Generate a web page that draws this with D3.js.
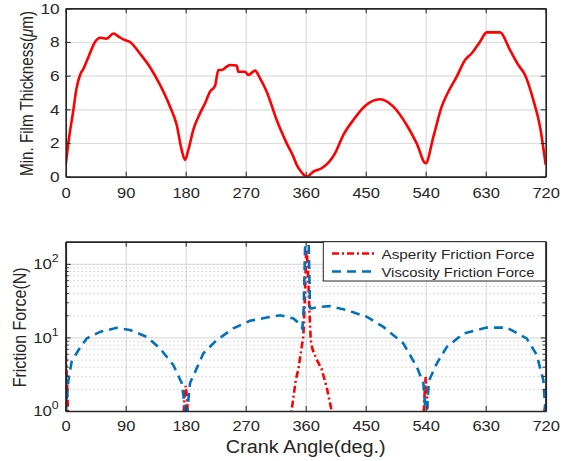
<!DOCTYPE html>
<html>
<head>
<meta charset="utf-8">
<script src="https://cdn.jsdelivr.net/npm/d3@7"></script>
<style>
  body { margin: 0; background: #fff; }
  text { font-family: "Liberation Sans", Arial, Helvetica, sans-serif; fill: #262626; }
</style>
</head>
<body>
<svg id="chart" width="575" height="461"></svg>
<script>
// crank angle ticks shared by both panels
var angleTicks = [0, 90, 180, 270, 360, 450, 540, 630, 720];
var filmTicks = [0, 2, 4, 6, 8, 10];
var forceTicks = [1, 10, 100];
var legendLabels = ["Asperity Friction Force", "Viscosity Friction Force"];

// minimum film thickness (um)
var filmAngle = [0, 5, 11.5, 16, 21.5, 26.5, 35, 44, 51.5, 61.5, 71.5, 80, 86.5, 96.5, 111.5, 126.5, 141.5, 156.5, 166.5, 174, 179, 184, 191.5, 201.5, 209, 216.5, 224, 229, 234, 241.5, 246.5, 256.5, 259, 269, 274, 284, 291.5, 301.5, 316.5, 321.5, 331.5, 341.5, 346.5, 354, 361.5, 371.5, 384, 404, 416.5, 431.5, 449, 471.5, 491.5, 511.5, 526.5, 540, 551.5, 564, 571.5, 586.5, 599, 609, 621.5, 631.5, 651.5, 666.5, 679, 689, 701.5, 711.5, 720];
var filmThick = [0.7, 2.3, 3.96, 5.2, 6.04, 6.4, 7.2, 8.0, 8.25, 8.2, 8.5, 8.3, 8.15, 8.0, 7.3, 6.5, 5.45, 4.16, 3.07, 1.58, 1.0, 1.6, 2.8, 3.76, 4.36, 5.05, 5.4, 6.34, 6.34, 6.53, 6.63, 6.6, 6.23, 6.23, 6.04, 6.3, 5.84, 5.05, 3.37, 2.87, 1.98, 1.19, 0.7, 0.25, 0.0, 0.3, 0.5, 1.39, 2.48, 3.37, 4.2, 4.6, 4.16, 3.07, 1.98, 0.8, 2.37, 4.16, 4.85, 5.94, 6.93, 7.33, 8.02, 8.57, 8.57, 7.52, 6.63, 6.04, 4.55, 2.97, 0.7];

// asperity friction force (N), 0 = no contact
var aspAngle = [0, 2, 4, 6, 174, 176, 178, 180, 182, 184, 186, 334, 336, 340, 345, 349, 353, 356.5, 359, 360.5, 361.5, 363.5, 365.5, 367.5, 370, 376.5, 384, 391.5, 399, 402, 404, 534, 536, 538, 540, 542, 544, 546, 714, 716, 718, 720];
var aspForce = [5.8, 2.5, 0.6, 0, 0, 0.6, 1.5, 2.2, 1.5, 0.6, 0, 0, 0.7, 1.2, 2.6, 3.7, 6.5, 10.4, 40, 127, 156, 80, 24, 9.4, 7, 5.0, 3.7, 2.1, 1.0, 0.8, 0, 0, 0.6, 1.5, 2.9, 1.5, 0.6, 0, 0, 0.6, 1.0, 1.3];

// viscosity friction force (N)
var visAngle = [0, 1, 4, 9, 19, 31.5, 51.5, 76.5, 96.5, 121.5, 141.5, 161.5, 174, 178, 181, 184, 186.5, 196.5, 206.5, 226.5, 251.5, 276.5, 301.5, 321.5, 341.5, 350, 355, 357, 359, 361, 364, 366.5, 369, 380, 396.5, 421.5, 451.5, 476.5, 506.5, 526.5, 536.5, 539, 541, 543, 545, 556.5, 571.5, 596.5, 631.5, 661.5, 691.5, 706.5, 716.5, 720];
var visForce = [0.9, 1.2, 2.6, 4.7, 6.7, 9.7, 11.9, 13.5, 12.6, 10.2, 7.1, 4.2, 2.4, 1.3, 0.8, 1.4, 2.4, 3.8, 6.1, 9.2, 13.3, 16.8, 18.6, 20, 18.1, 15.5, 13.2, 25, 160, 300, 300, 25, 24.8, 26, 26.6, 23.5, 19.1, 13.9, 8.3, 4.0, 2.4, 1.2, 0.8, 1.5, 2.6, 4.4, 7.4, 11.3, 13.6, 13.6, 9.7, 5.8, 2.6, 0.9];

var red = "#ff0000", blue = "#0072bd", ink = "#262626";
var svg = d3.select("#chart");

var left = 65.7, right = 545.7;
var topBox = { t: 8.3, b: 176.7 };
var botBox = { t: 241.7, b: 411 };

var x = d3.scaleLinear().domain([0, 720]).range([left, right]);
var yFilm = d3.scaleLinear().domain([0, 10]).range([topBox.b, topBox.t]);
var yForce = d3.scaleLog().domain([1, 200]).range([botBox.b, botBox.t]);

var minorForce = [];
[1, 10].forEach(function(dec) {
    for (var m = 2; m <= 9; m++) minorForce.push(m * dec);
});

// MATLAB-ish fonts render a bit wide, so stretch the glyphs
function widen(sel, k) {
    sel.each(function() {
        var n = this.getComputedTextLength();
        d3.select(this).attr("textLength", n * k).attr("lengthAdjust", "spacingAndGlyphs");
    });
}

function styleAxis(g) {
    g.attr("color", ink).attr("font-size", 15);
    g.select(".domain").attr("stroke-width", 1.7);
    g.selectAll(".tick line").attr("stroke-width", 1);
}

function gridLines(g, box, y, yVals) {
    // vertical grid
    g.append("g")
        .attr("transform", "translate(0," + box.b + ")")
        .call(d3.axisBottom(x).tickValues(angleTicks.slice(1, -1)).tickSize(-(box.b - box.t)).tickFormat(""))
        .call(function(a) {
            a.select(".domain").remove();
            a.selectAll(".tick line").attr("stroke", "#dcdcdc").attr("stroke-width", 1.2);
        });
    // horizontal grid
    g.append("g")
        .attr("transform", "translate(" + left + ",0)")
        .call(d3.axisLeft(y).tickValues(yVals).tickSize(-(right - left)).tickFormat(""))
        .call(function(a) {
            a.select(".domain").remove();
            a.selectAll(".tick line").attr("stroke", "#dcdcdc").attr("stroke-width", 1.2);
        });
}

function frame(g, box, y, yVals, yFmt, yPad, xPad) {
    g.append("g")
        .attr("transform", "translate(0," + box.b + ")")
        .call(d3.axisBottom(x).tickValues(angleTicks).tickSizeInner(-5).tickSizeOuter(0).tickPadding(xPad))
        .call(styleAxis)
        .call(function(a) { widen(a.selectAll("text"), 1.1); });
    g.append("g")
        .attr("transform", "translate(0," + box.t + ")")
        .call(d3.axisTop(x).tickValues(angleTicks).tickSizeInner(-5).tickSizeOuter(0).tickFormat(""))
        .call(styleAxis);
    var yl = g.append("g")
        .attr("transform", "translate(" + left + ",0)")
        .call(d3.axisLeft(y).tickValues(yVals).tickSizeInner(-5).tickSizeOuter(0).tickPadding(yPad).tickFormat(yFmt))
        .call(styleAxis);
    g.append("g")
        .attr("transform", "translate(" + right + ",0)")
        .call(d3.axisRight(y).tickValues(yVals).tickSizeInner(-5).tickSizeOuter(0).tickFormat(""))
        .call(styleAxis);
    return yl;
}

// ---------- top panel: film thickness ----------
var gTop = svg.append("g");
gridLines(gTop, topBox, yFilm, filmTicks.slice(1, -1));

svg.append("clipPath").attr("id", "clipTop")
    .append("rect").attr("x", left).attr("y", topBox.t).attr("width", right - left).attr("height", topBox.b - topBox.t);

var filmLine = d3.line()
    .x(function(d, i) { return x(filmAngle[i]); })
    .y(function(d) { return yFilm(d); })
    .curve(d3.curveMonotoneX);

gTop.append("path")
    .attr("clip-path", "url(#clipTop)")
    .attr("d", filmLine(filmThick))
    .attr("fill", "none")
    .attr("stroke", red)
    .attr("stroke-width", 2.6)
    .attr("stroke-linejoin", "round");

var ylTop = frame(gTop, topBox, yFilm, filmTicks, d3.format("d"), 6, 11);
widen(ylTop.selectAll("text"), 1.15);

gTop.append("text")
    .attr("transform", "translate(32.5," + ((topBox.t + topBox.b) / 2 + 1) + ") rotate(-90)")
    .attr("text-anchor", "middle")
    .attr("font-size", 19)
    .attr("textLength", 165)
    .attr("lengthAdjust", "spacingAndGlyphs")
    .call(function(t) {
        t.append("tspan").text("Min. Film Thickness(");
        t.append("tspan").attr("font-style", "italic").text("\u03bc");
        t.append("tspan").text("m)");
    });

// ---------- bottom panel: friction forces ----------
var gBot = svg.append("g");
gridLines(gBot, botBox, yForce, [10, 100]);

// dotted minor grid
gBot.append("g")
    .attr("transform", "translate(" + left + ",0)")
    .call(d3.axisLeft(yForce).tickValues(minorForce).tickSize(-(right - left)).tickFormat(""))
    .call(function(a) {
        a.select(".domain").remove();
        a.selectAll(".tick line").attr("stroke", "#b4b4b4").attr("stroke-width", 1).attr("stroke-dasharray", "1,3");
    });

svg.append("clipPath").attr("id", "clipBot")
    .append("rect").attr("x", left).attr("y", botBox.t).attr("width", right - left).attr("height", botBox.b - botBox.t);

var visLine = d3.line()
    .x(function(d, i) { return x(visAngle[i]); })
    .y(function(d) { return yForce(Math.max(d, 0.3)); });

var aspLine = d3.line()
    .defined(function(d) { return d > 0; })
    .x(function(d, i) { return x(aspAngle[i]); })
    .y(function(d) { return yForce(d); });

var plot = gBot.append("g").attr("clip-path", "url(#clipBot)");

plot.append("path")
    .attr("d", aspLine(aspForce))
    .attr("fill", "none")
    .attr("stroke", red)
    .attr("stroke-width", 2.6)
    .attr("stroke-dasharray", "7,3,2,3");

plot.append("path")
    .attr("d", visLine(visForce))
    .attr("fill", "none")
    .attr("stroke", blue)
    .attr("stroke-width", 2.6)
    .attr("stroke-dasharray", "9,6");

// minor ticks on log axis
gBot.append("g")
    .attr("transform", "translate(" + left + ",0)")
    .call(d3.axisLeft(yForce).tickValues(minorForce).tickSizeInner(-3).tickSizeOuter(0).tickFormat(""))
    .call(styleAxis);
gBot.append("g")
    .attr("transform", "translate(" + right + ",0)")
    .call(d3.axisRight(yForce).tickValues(minorForce).tickSizeInner(-3).tickSizeOuter(0).tickFormat(""))
    .call(styleAxis);

var ylBot = frame(gBot, botBox, yForce, forceTicks, function() { return ""; }, 7, 9);
ylBot.selectAll(".tick text").each(function(d) {
    var t = d3.select(this);
    t.append("tspan").text("10");
    t.append("tspan").attr("dy", -7).attr("font-size", 11).text(Math.round(Math.log10(d)));
});
widen(ylBot.selectAll(".tick text"), 1.12);

gBot.append("text")
    .attr("transform", "translate(25.5," + ((botBox.t + botBox.b) / 2 + 1) + ") rotate(-90)")
    .attr("text-anchor", "middle")
    .attr("font-size", 19)
    .attr("textLength", 120)
    .attr("lengthAdjust", "spacingAndGlyphs")
    .text("Friction Force(N)");

svg.append("text")
    .attr("x", (left + right) / 2)
    .attr("y", 453)
    .attr("text-anchor", "middle")
    .attr("font-size", 18)
    .attr("textLength", 160)
    .attr("lengthAdjust", "spacingAndGlyphs")
    .text("Crank Angle(deg.)");

// legend
var leg = svg.append("g");
leg.append("rect")
    .attr("x", 323.3).attr("y", botBox.t)
    .attr("width", right - 323.3).attr("height", 39.3)
    .attr("fill", "#fff").attr("stroke", ink).attr("stroke-width", 1);

var legStyle = [
    { color: red, dash: "7,3,2,3" },
    { color: blue, dash: "9,6" }
];
legendLabels.forEach(function(label, i) {
    var cy = 253.5 + i * 18;
    leg.append("line")
        .attr("x1", 332).attr("x2", 377).attr("y1", cy).attr("y2", cy)
        .attr("stroke", legStyle[i].color).attr("stroke-width", 2.6)
        .attr("stroke-dasharray", legStyle[i].dash);
    leg.append("text")
        .attr("x", 381.5).attr("y", cy + 5)
        .attr("font-size", 13.5)
        .text(label)
        .call(function(t) { t.attr("textLength", 153).attr("lengthAdjust", "spacingAndGlyphs"); });
});
</script>
</body>
</html>
